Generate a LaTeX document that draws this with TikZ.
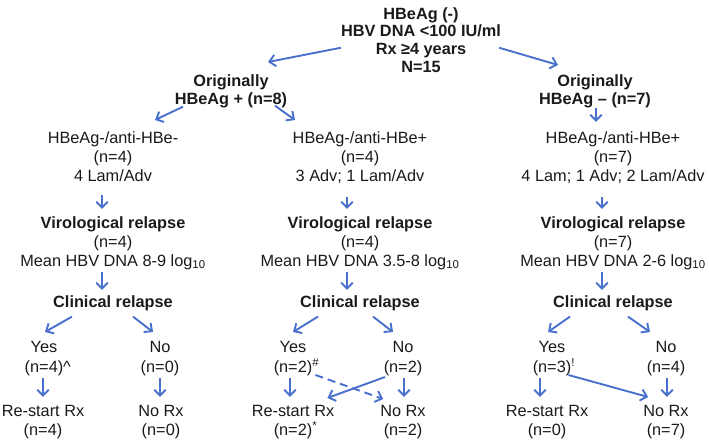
\documentclass[tikz,border=0pt]{standalone}
\usepackage{fontspec}
\setmainfont{Liberation Sans}
\usepackage{tikz}
\usepackage{xcolor}
\usetikzlibrary{math, calc, arrows.meta}

\definecolor{arrowblue}{RGB}{72,112,204}
\definecolor{ink}{RGB}{26,26,26}

\tikzset{
  box/.style={anchor=north, align=center, inner sep=0pt, text=ink, font=\fontsize{16.3}{19}\selectfont},
  head/.style={box, font=\fontsize{16.3}{18}\selectfont\bfseries},
  answer/.style={box, font=\fontsize{16.3}{20}\selectfont},
  arr/.style={draw=arrowblue, line width=1.9pt, -{Straight Barb[length=6pt,width=11.5pt]}},
  dasharr/.style={arr, dash pattern=on 8pt off 5pt},
}

\begin{document}
\begin{tikzpicture}[x=1pt, y=-1pt]

\tikzmath{
\colL = 113;
\colM = 360;
\colR = 613;
\rowA = 131;
\rowB = 216;
\rowC = 295;
\rowD = 341;
\rowE = 405;
}

\useasboundingbox (0,0) rectangle (709,442);

% top of the tree
\node[head, font=\fontsize{16.3}{17.7}\selectfont\bfseries] (top) at (421,7) {HBeAg (-)\\HBV DNA <100 IU/ml\\Rx ≥4 years\\N=15};
\node[head] (origP) at (231,74) {Originally\\HBeAg + (n=8)};
\node[head] (origN) at (595,74) {Originally\\HBeAg \textendash{} (n=7)};

\draw[arr] ($(top.west)+(0,8)$) -- ($(origP.north)+(37,-12)$);
\draw[arr] ($(top.east)+(-2,8)$) -- ($(origN.north)+(-37,-9)$);

% serology
\node[box] (L1) at (\colL,\rowA) {HBeAg-/anti-HBe-\\(n=4)\\4 Lam/Adv};
\node[box] (M1) at (\colM,\rowA) {HBeAg-/anti-HBe+\\(n=4)\\3 Adv; 1 Lam/Adv};
\node[box] (R1) at (\colR,\rowA) {HBeAg-/anti-HBe+\\(n=7)\\4 Lam; 1 Adv; 2 Lam/Adv};

\draw[arr] ($(origP.south)+(-48,-1)$) -- ($(L1.north)+(42,-11)$);
\draw[arr] ($(origP.south)+(44,-2)$) -- ($(M1.north)+(-65,-11)$);
\draw[arr] ($(origN.south)+(1,0)$) -- ($(R1.north)+(-17,-9)$);

% virological relapse
\node[box] (L2) at (\colL,\rowB) {\textbf{Virological relapse}\\(n=4)\\Mean HBV DNA 8-9 log\textsubscript{10}};
\node[box] (M2) at (\colM,\rowB) {\textbf{Virological relapse}\\(n=4)\\Mean HBV DNA 3.5-8 log\textsubscript{10}};
\node[box] (R2) at (\colR,\rowB) {\textbf{Virological relapse}\\(n=7)\\Mean HBV DNA 2-6 log\textsubscript{10}};

% clinical relapse and the two down arrows of each column
\foreach \c/\x/\off/\sl/\sr in {L/\colL/-11/-41/20, M/\colM/-13/-42/13, R/\colR/-11/-43/15}
{
   \node[head] (\c3) at (\x,\rowC) {Clinical relapse};
   \draw[arr] ($(\c1.south)+(\off,14)$) -- ($(\c2.north)+(\off,-7)$);
   \draw[arr] ($(\c2.south)+(\off,2)$) -- ($(\c3.north)+(\off,-5)$);
   \coordinate (\c3l) at ($(\c3.south)+(\sl,6)$);
   \coordinate (\c3r) at ($(\c3.south)+(\sr,6)$);
}

% yes / no
\node[answer] (LY) at (44,\rowD) {Yes\\(n=4)\rlap{\textasciicircum}};
\node[answer] (LN) at (160,\rowD) {No\\(n=0)};
\node[answer] (MY) at (293,\rowD) {Yes\\(n=2)\rlap{\textsuperscript{\#}}};
\node[answer] (MN) at (403,\rowD) {No\\(n=2)};
\node[answer] (RY) at (552,\rowD) {Yes\\(n=3)\rlap{\textsuperscript{!}}};
\node[answer] (RN) at (666,\rowD) {No\\(n=4)};

\draw[arr] (L3l) -- ($(LY.north)+(1,-9)$);
\draw[arr] (L3r) -- ($(LN.north)+(-7,-9)$);
\draw[arr] (M3l) -- ($(MY.north)+(0,-9)$);
\draw[arr] (M3r) -- ($(MN.north)+(-10,-9)$);
\draw[arr] (R3l) -- ($(RY.north)+(-4,-9)$);
\draw[arr] (R3r) -- ($(RN.north)+(-16,-9)$);

% treatment
\node[box] (LRs) at (43,\rowE) {Re-start Rx\\(n=4)};
\node[box] (LNr) at (161,\rowE) {No Rx\\(n=0)};
\node[box] (MRs) at (293,\rowE) {Re-start Rx\\(n=2)\rlap{\textsuperscript{*}}};
\node[box] (MNr) at (403,\rowE) {No Rx\\(n=2)};
\node[box] (RRs) at (547,\rowE) {Re-start Rx\\(n=0)};
\node[box] (RNr) at (666,\rowE) {No Rx\\(n=7)};

\draw[arr] ($(LY.south)+(-1,2)$) -- ($(LRs.north)+(0,-8)$);
\draw[arr] ($(LN.south)+(0,2)$) -- ($(LNr.north)+(-1,-8)$);
\draw[arr] ($(MY.south)+(-3,2)$) -- ($(MRs.north)+(-3,-8)$);
\draw[arr] ($(MN.south)+(1,2)$) -- ($(MNr.north)+(1,-8)$);
\draw[arr] ($(RY.south)+(-12,2)$) -- ($(RRs.north)+(-7,-8)$);
\draw[arr] ($(RN.south)+(1,2)$) -- ($(RNr.north)+(1,-8)$);

% crossing arrows
\draw[arr] ($(MN.south)+(-18,1)$) -- ($(MRs.north east)+(-7,-7)$);
\draw[dasharr] ($(MY.south east)+(3,-1)$) -- ($(MNr.north west)+(3,-6)$);
\draw[arr] ($(RY.south east)+(-3,-1)$) -- ($(RNr.north west)+(5,-8)$);

\end{tikzpicture}
\end{document}
